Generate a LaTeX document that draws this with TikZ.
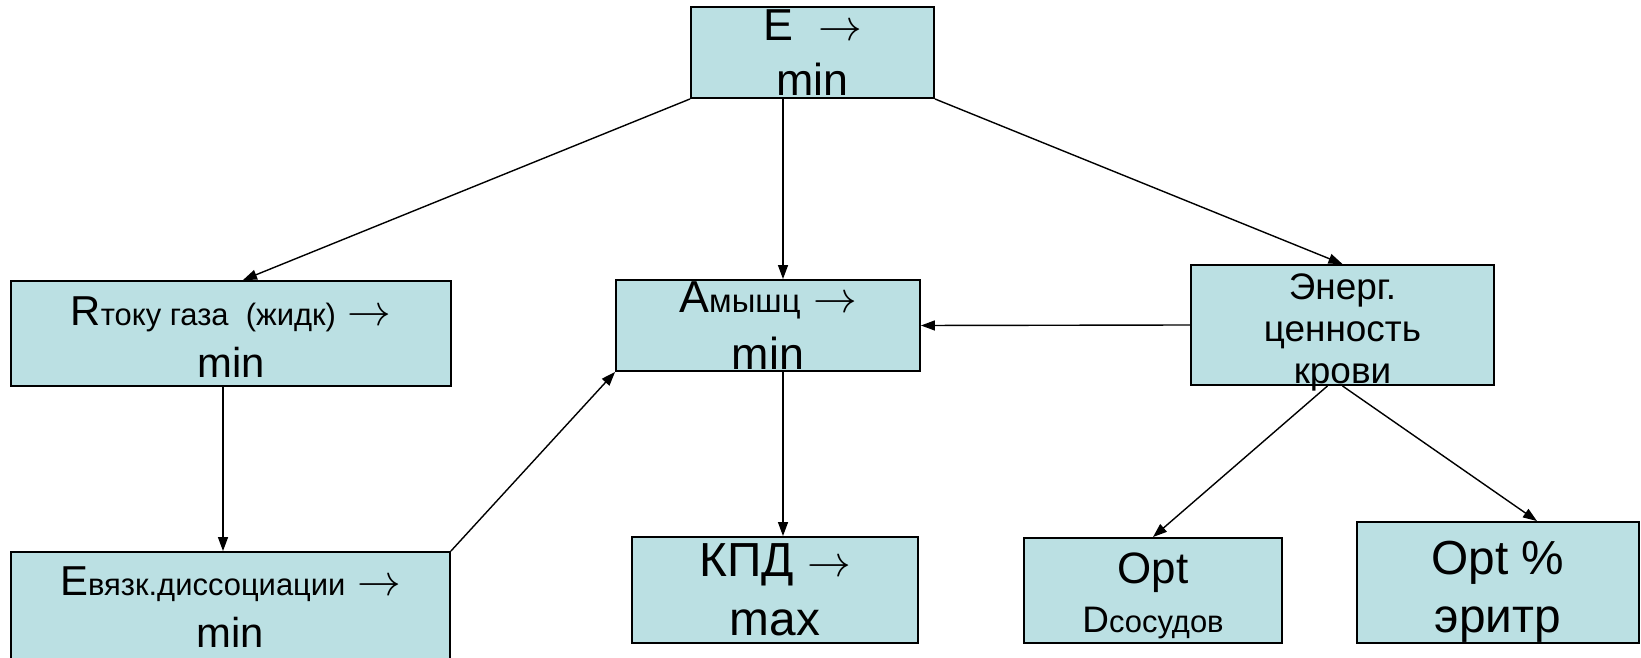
\documentclass[tikz,border=0pt]{standalone}
\usepackage{fontspec}
\setmainfont{Liberation Sans}
\usepackage{tikz}
\usetikzlibrary{calc,positioning,arrows.meta}

\definecolor{boxfill}{RGB}{187,224,227}
% smaller text that follows the capital letter
\newcommand{\lowtxt}[1]{{\fontsize{17.6}{20}\selectfont #1}}
% invisible strut that pushes the first line down
\newcommand{\topgap}[1]{\rule{0pt}{#1}}

\begin{document}
\begin{tikzpicture}
      [x=0.02cm, y=-0.02cm,
      % STYLES
      % The goal style is used for every box of the scheme
      goal/.style={rectangle, draw, line width=1.1pt, fill=boxfill, inner sep=0pt, align=center},
      % font size and line distance of a box
      boxfont/.style 2 args={font=\fontsize{#1}{#2}\selectfont},
      % The link style is used for the arrows between the boxes
      link/.style={-{Triangle[length=0.28cm,width=0.2cm]}, line width=0.8pt}]

      \useasboundingbox (0,0) rectangle (1641,658);
      \coordinate (spine) at (783,0);

      % Draw boxes
      \node [goal, boxfont={25.5pt}{31.2pt}, minimum width=4.86cm, minimum height=1.82cm] (energyMin) at (812.5,52.5) {E~~$\rightarrow$\\min};
      \node [goal, boxfont={23.8pt}{30pt}, minimum width=8.8cm, minimum height=2.1cm] (resistMin) at (231,333.5) {\topgap{20.4pt}R\lowtxt{току газа\ \ (жидк)} $\rightarrow$\\min};
      \node [goal, boxfont={25.5pt}{32.3pt}, minimum width=6.08cm, minimum height=1.82cm] (workMin) at (768,325.5) {A{\fontsize{18.7pt}{20pt}\selectfont мышц} $\rightarrow$\\min};
      \node [goal, boxfont={21pt}{23.8pt}, inner ysep=-5pt, minimum width=6.06cm, minimum height=2.4cm] (bloodValue) at (1342.5,325) {\topgap{23.5pt}Энерг.\\ценность\\крови};
      \node [goal, boxfont={23.8pt}{30pt}, minimum width=8.78cm, minimum height=2.2cm] (bondMin) at (230.5,607) {E\lowtxt{вязк.диссоциации} $\rightarrow$\\min};
      \node [goal, boxfont={27.2pt}{33.4pt}, minimum width=5.72cm, minimum height=2.12cm] (effMax) at (775,590) {КПД $\rightarrow$\\max};
      \node [goal, boxfont={25pt}{28.3pt}, minimum width=5.16cm, minimum height=2.1cm] (vesselOpt) at (1153,590.5) {\topgap{23.5pt}Opt\\{\fontsize{21pt}{24pt}\selectfont D}\lowtxt{сосудов}};
      \node [goal, boxfont={27.2pt}{33.4pt}, minimum width=5.64cm, minimum height=2.42cm] (erythOpt) at (1498,582.5) {\topgap{29.5pt}Opt \%\\эритр};

      % Draw the links between boxes
      \path[link]
        (energyMin.south west) edge ([xshift=0.24cm]resistMin.north)
        (energyMin.south -| spine) edge (workMin.north -| spine)
        (energyMin.south east) edge (bloodValue.north)
        (bloodValue.west) edge (workMin.east)
        ([xshift=-0.16cm]resistMin.south) edge ([xshift=-0.16cm]resistMin.south |- bondMin.north)
        (bondMin.north east) edge (workMin.south west)
        (workMin.south -| spine) edge (effMax.north -| spine)
        ([xshift=-0.3cm]bloodValue.south) edge (vesselOpt.north)
        (bloodValue.south) edge ([xshift=0.78cm]erythOpt.north);

    \end{tikzpicture}
\end{document}
